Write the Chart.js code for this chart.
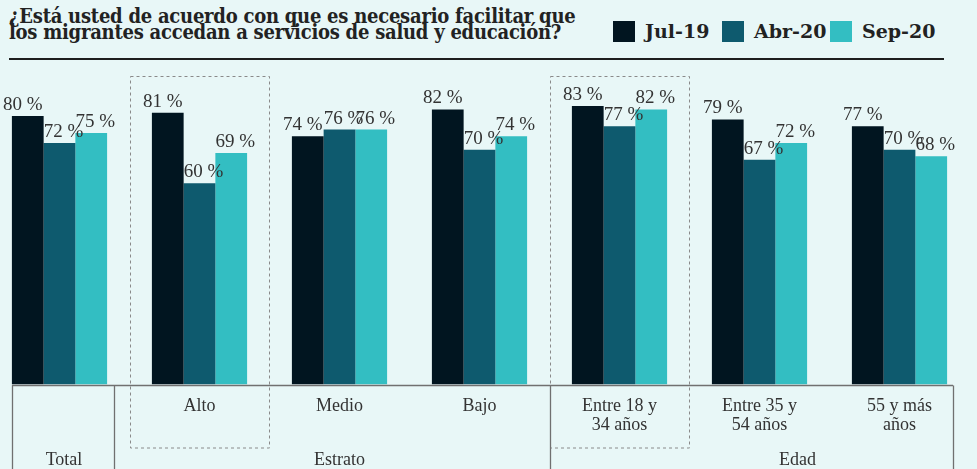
<!DOCTYPE html>
<html>
<head>
<meta charset="utf-8">
<script src="https://cdn.jsdelivr.net/npm/chart.js@4"></script>
<style>
  body { margin: 0; background: #e8f7f7; width: 977px; height: 469px; overflow: hidden; position: relative; }
  #chart { position: absolute; left: -11px; top: 0; }
  .title { position: absolute; left: 9px; top: 8px; font: bold 20px 'DejaVu Serif Condensed', 'DejaVu Serif', serif; letter-spacing: -0.25px; line-height: 16px; color: #222; white-space: nowrap; }
  .rule { position: absolute; left: 9px; top: 58px; width: 935px; height: 2px; background: #1e1e1e; }
  .leg { position: absolute; top: 19px; font: bold 19px 'DejaVu Serif', serif; color: #222; line-height: 24px; white-space: nowrap; }
  .leg i { display: inline-block; width: 22px; height: 21px; vertical-align: -4px; margin-right: 10px; }
</style>
</head>
<body>
<div class="title">¿Está usted de acuerdo con que es necesario facilitar que<br>los migrantes accedan a servicios de salud y educación?</div>
<div id="legend"></div>
<div class="rule"></div>
<canvas id="chart" width="990" height="469"></canvas>
<script>
const categories = ['Total', 'Alto', 'Medio', 'Bajo', 'Entre 18 y 34 años', 'Entre 35 y 54 años', '55 y más años'];
const tickLabels = [[], ['Alto'], ['Medio'], ['Bajo'], ['Entre 18 y', '34 años'], ['Entre 35 y', '54 años'], ['55 y más', 'años']];
const groupLabels = ['Total', 'Estrato', 'Edad'];
const groupRanges = [[0, 0], [1, 3], [4, 6]];
const boxedCategories = [1, 4];

const seriesNames = ['Jul-19', 'Abr-20', 'Sep-20'];
const jul19 = [80, 81, 74, 82, 83, 79, 77];
const abr20 = [72, 60, 76, 70, 77, 67, 70];
const sep20 = [75, 69, 76, 74, 82, 72, 68];
const seriesColors = ['#011520', '#0e5a6e', '#33bec2'];

// legend (html)
const legendLeft = [613, 722, 830];
document.getElementById('legend').innerHTML = seriesNames.map((n, i) =>
    `<div class="leg" style="left:${legendLeft[i]}px"><i style="background:${seriesColors[i]}"></i>${n}</div>`
).join('');

const catPct = 0.68;

const annotate = {
    id: 'annotate',
    beforeDatasetsDraw(chart) {
        const ctx = chart.ctx, x = chart.scales.x, area = chart.chartArea;
        const step = x.getPixelForValue(1) - x.getPixelForValue(0);
        ctx.save();
        ctx.strokeStyle = '#8a8a8a';
        ctx.lineWidth = 1;
        ctx.setLineDash([3, 3]);
        boxedCategories.forEach(i => {
            const c = x.getPixelForValue(i);
            ctx.strokeRect(Math.round(c - step / 2) + 0.5, area.top + 27.5, step - 1, area.bottom - area.top + 36);
        });
        ctx.restore();
    },
    afterDatasetsDraw(chart) {
        const ctx = chart.ctx, x = chart.scales.x, area = chart.chartArea;
        const step = x.getPixelForValue(1) - x.getPixelForValue(0);
        const half = step * catPct / 2;
        ctx.save();

        // value labels
        ctx.font = '19px "Liberation Serif", serif';
        ctx.fillStyle = '#333';
        ctx.textAlign = 'center';
        ctx.textBaseline = 'alphabetic';
        chart.data.datasets.forEach((ds, d) => {
            chart.getDatasetMeta(d).data.forEach((bar, i) => {
                ctx.fillText(ds.data[i] + ' %', bar.x + (d === 0 ? -5 : 4), bar.y - 6);
            });
        });

        // axis line and separators
        const base = Math.round(area.bottom) + 0.5;
        const n = categories.length;
        const left = x.getPixelForValue(0) - half;
        const right = x.getPixelForValue(n - 1) + half + 6;
        const seps = [left, x.getPixelForValue(0) + half + 7,
            (x.getPixelForValue(3) + x.getPixelForValue(4)) / 2, right];
        ctx.strokeStyle = '#707070';
        ctx.lineWidth = 1.3;
        ctx.beginPath();
        ctx.moveTo(left, base);
        ctx.lineTo(right, base);
        seps.forEach(s => {
            ctx.moveTo(Math.round(s) + 0.5, base);
            ctx.lineTo(Math.round(s) + 0.5, chart.height);
        });
        ctx.stroke();

        // category labels
        ctx.font = '18px "Liberation Serif", serif';
        ctx.fillStyle = '#333';
        ctx.textBaseline = 'middle';
        tickLabels.forEach((lines, i) => {
            lines.forEach((t, k) => ctx.fillText(t, x.getPixelForValue(i), area.bottom + 22 + k * 18.5));
        });

        // group labels
        const nudge = [4.5, 0, 38];
        groupLabels.forEach((g, j) => {
            const [a, b] = groupRanges[j];
            const c = (x.getPixelForValue(a) + x.getPixelForValue(b)) / 2 + nudge[j];
            ctx.fillText(g, c, area.bottom + 76);
        });
        ctx.restore();
    }
};

new Chart(document.getElementById('chart').getContext('2d'), {
    type: 'bar',
    data: {
        labels: categories,
        datasets: [jul19, abr20, sep20].map((vals, i) => ({
            label: seriesNames[i],
            data: vals,
            backgroundColor: seriesColors[i],
            borderWidth: 0,
            categoryPercentage: catPct,
            barPercentage: 1,
        })),
    },
    options: {
        responsive: false,
        animation: false,
        devicePixelRatio: 1,
        layout: { padding: { left: 0.5, right: 9.5, top: 49, bottom: 84.5 } },
        plugins: { legend: { display: false }, tooltip: { enabled: false } },
        scales: {
            x: { display: false },
            y: { display: false, min: 0, max: 100 },
        },
    },
    plugins: [annotate],
});
</script>
</body>
</html>
